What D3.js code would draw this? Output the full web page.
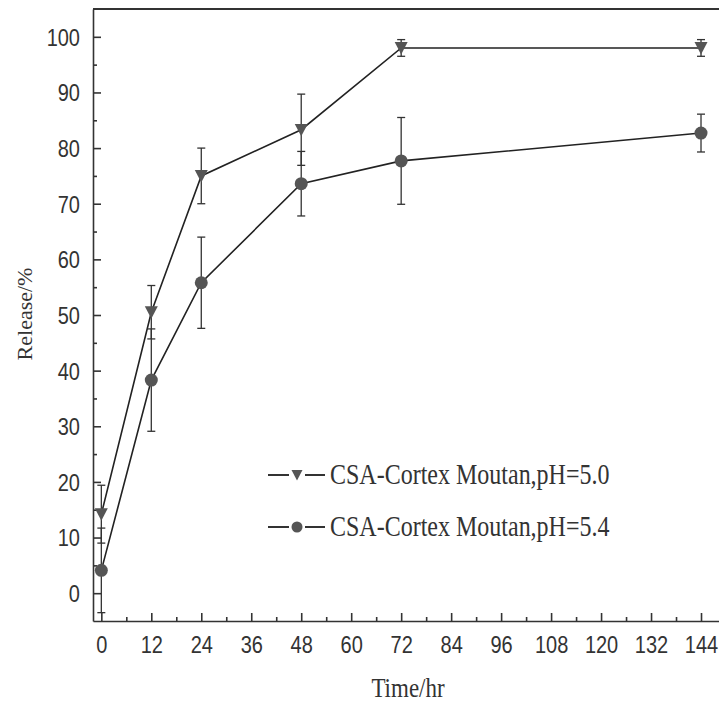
<!DOCTYPE html>
<html>
<head>
<meta charset="utf-8">
<script src="https://cdn.jsdelivr.net/npm/d3@7"></script>
<style>
  html, body { margin: 0; padding: 0; background: #fff; }
  svg { display: block; }
  .axis text { font-family: 'Liberation Sans', Arial, sans-serif; font-size: 20px; fill: #333; }
  .axis path, .axis line { stroke: #333; stroke-width: 1.6; }
  .title { font-family: 'Liberation Serif', 'Times New Roman', serif; fill: #333; }
</style>
</head>
<body>
<svg id="chart" width="719" height="703"></svg>
<script>
const times = [0, 12, 24, 48, 72, 144]
const releasePH50 = [14.2, 50.5, 75, 83.3, 98, 98]
const errorPH50 = [5.2, 4.8, 5, 6.4, 1.5, 1.5]
const releasePH54 = [4.1, 38.3, 55.8, 73.6, 77.7, 82.7]
const errorPH54 = [7.6, 9.2, 8.2, 5.8, 7.8, 3.4]
const xTicks = [0, 12, 24, 36, 48, 60, 72, 84, 96, 108, 120, 132, 144]
const yTicks = [0, 10, 20, 30, 40, 50, 60, 70, 80, 90, 100]
const seriesNames = ['CSA-Cortex Moutan,pH=5.0', 'CSA-Cortex Moutan,pH=5.4']

const svg = d3.select('#chart')
const plot = { left: 93, top: 9, right: 726, bottom: 621 }
// the scanned figure is a bit taller than wide, so text gets stretched vertically
const stretch = 1.18

const x = d3.scaleLinear().domain([-2, 150]).range([plot.left, plot.right])
const y = d3.scaleLinear().domain([-5, 105]).range([plot.bottom, plot.top])

const series = [
  { name: seriesNames[0], values: releasePH50, errors: errorPH50, symbol: 'tri' },
  { name: seriesNames[1], values: releasePH54, errors: errorPH54, symbol: 'circle' },
]

// frame (top + right), axes draw the other two sides
svg.append('line')
  .attr('x1', plot.left).attr('x2', plot.right)
  .attr('y1', plot.top).attr('y2', plot.top)
  .attr('stroke', '#333').attr('stroke-width', 1.8)
svg.append('line')
  .attr('x1', plot.right).attr('x2', plot.right)
  .attr('y1', plot.top).attr('y2', plot.bottom)
  .attr('stroke', '#333').attr('stroke-width', 1.8)

// x axis, ticks pointing inward
svg.append('g')
  .attr('class', 'axis axis--x')
  .attr('transform', `translate(0, ${plot.bottom})`)
  .call(d3.axisBottom(x).tickValues(xTicks).tickSizeInner(-8).tickSizeOuter(0))
  .selectAll('text')
  .attr('y', null).attr('dy', null)
  .attr('transform', `translate(0, 32) scale(1, ${stretch})`)
svg.append('g')
  .attr('class', 'axis axis--x-minor')
  .attr('transform', `translate(0, ${plot.bottom})`)
  .call(d3.axisBottom(x).tickValues(xTicks.slice(0, -1).map((d) => d + 6)).tickSizeInner(-4).tickSizeOuter(0).tickFormat(''))
  .select('.domain').remove()

// y axis
svg.append('g')
  .attr('class', 'axis axis--y')
  .attr('transform', `translate(${plot.left}, 0)`)
  .call(d3.axisLeft(y).tickValues(yTicks).tickSizeInner(-8).tickSizeOuter(0))
  .selectAll('text')
  .attr('x', null).attr('dy', null)
  .attr('transform', `translate(-13, 8.4) scale(1, ${stretch})`)
svg.append('g')
  .attr('class', 'axis axis--y-minor')
  .attr('transform', `translate(${plot.left}, 0)`)
  .call(d3.axisLeft(y).tickValues(yTicks.slice(0, -1).map((d) => d + 5)).tickSizeInner(-4).tickSizeOuter(0).tickFormat(''))
  .select('.domain').remove()

// axis titles
svg.append('text')
  .attr('class', 'title')
  .attr('transform', `translate(408, 697) scale(1, ${stretch})`)
  .attr('text-anchor', 'middle')
  .attr('font-size', 23)
  .text('Time/hr')
svg.append('text')
  .attr('class', 'title')
  .attr('transform', 'translate(32, 314) rotate(-90)')
  .attr('text-anchor', 'middle')
  .attr('font-size', 22)
  .text('Release/%')

const line = d3.line()
  .x((d) => x(d.t))
  .y((d) => y(d.v))

const triPath = (s) => `M${-s / 2},${-s * 0.45} L${s / 2},${-s * 0.45} L0,${s * 0.5} Z`

function drawMarker(g, symbol, size) {
  if (symbol === 'tri') {
    g.append('path').attr('d', triPath(size)).attr('fill', '#555')
  } else {
    g.append('circle').attr('r', size / 2).attr('fill', '#555')
  }
}

series.forEach((s) => {
  const pts = times.map((t, i) => ({ t, v: s.values[i], e: s.errors[i] }))
  const g = svg.append('g').attr('class', 'series')

  // error bars
  const eb = g.selectAll('.err').data(pts).enter().append('g').attr('class', 'err')
    .attr('stroke', '#333').attr('stroke-width', 1.3)
  eb.append('line')
    .attr('x1', (d) => x(d.t)).attr('x2', (d) => x(d.t))
    .attr('y1', (d) => y(d.v + d.e)).attr('y2', (d) => y(d.v - d.e))
  eb.append('line')
    .attr('x1', (d) => x(d.t) - 4).attr('x2', (d) => x(d.t) + 4)
    .attr('y1', (d) => y(d.v + d.e)).attr('y2', (d) => y(d.v + d.e))
  eb.append('line')
    .attr('x1', (d) => x(d.t) - 4).attr('x2', (d) => x(d.t) + 4)
    .attr('y1', (d) => y(d.v - d.e)).attr('y2', (d) => y(d.v - d.e))

  g.append('path')
    .datum(pts)
    .attr('d', line)
    .attr('fill', 'none')
    .attr('stroke', '#222')
    .attr('stroke-width', 1.6)

  g.selectAll('.marker').data(pts).enter().append('g')
    .attr('class', 'marker')
    .attr('transform', (d) => `translate(${x(d.t)}, ${y(d.v)})`)
    .each(function () { drawMarker(d3.select(this), s.symbol, 13) })
})

// legend
const legend = svg.append('g').attr('class', 'legend')
series.forEach((s, i) => {
  const ly = 475 + i * 52
  const lg = legend.append('g').attr('transform', `translate(0, ${ly})`)
  lg.append('line')
    .attr('x1', 268).attr('x2', 325)
    .attr('stroke', '#333').attr('stroke-width', 2)
  const m = lg.append('g').attr('transform', 'translate(297, 0)')
  m.append('rect').attr('x', -8).attr('y', -8).attr('width', 16).attr('height', 16).attr('fill', '#fff')
  drawMarker(m, s.symbol, 11)
  lg.append('text')
    .attr('class', 'title')
    .attr('transform', `translate(330, 9) scale(1, 1.22)`)
    .attr('font-size', 24)
    .text(s.name)
})
</script>
</body>
</html>
